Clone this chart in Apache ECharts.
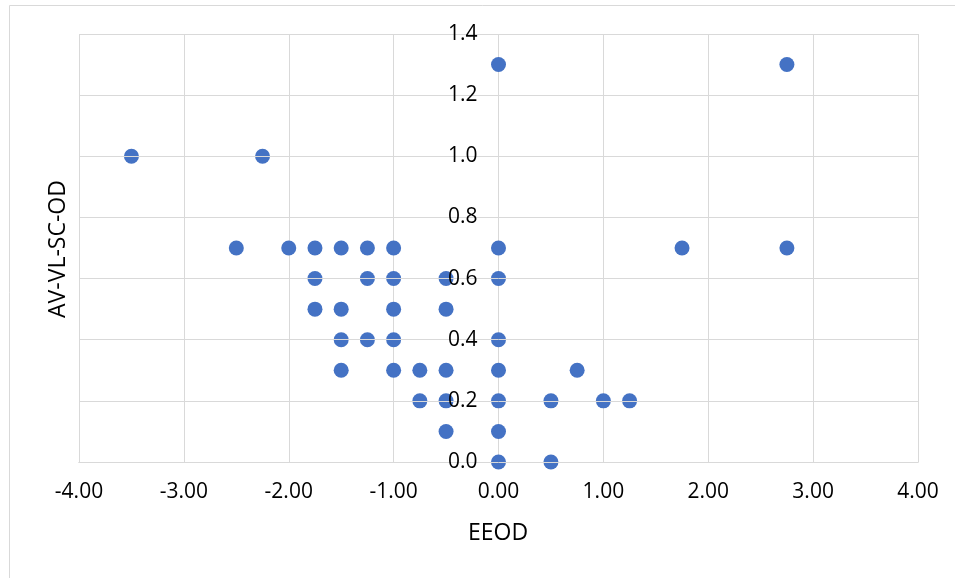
<!DOCTYPE html>
<html>
<head>
<meta charset="utf-8">
<script src="https://cdn.jsdelivr.net/npm/echarts@6/dist/echarts.min.js"></script>
<style>html,body{margin:0;padding:0;background:#fff}#c{width:956px;height:578px}</style>
</head>
<body>
<div id="c"></div>
<script>
const eeod = [-3.5, -2.25, 0, 2.75,
  -2.5, -2.0, -1.75, -1.5, -1.25, -1.0, 0, 1.75, 2.75,
  -1.75, -1.25, -1.0, -0.5, 0,
  -1.75, -1.5, -1.0, -0.5,
  -1.5, -1.25, -1.0, 0,
  -1.5, -1.0, -0.75, -0.5, 0, 0.75,
  -0.75, -0.5, 0, 0.5, 1.0, 1.25,
  -0.5, 0,
  0, 0.5];
const avvlscod = [1.0, 1.0, 1.3, 1.3,
  0.7, 0.7, 0.7, 0.7, 0.7, 0.7, 0.7, 0.7, 0.7,
  0.6, 0.6, 0.6, 0.6, 0.6,
  0.5, 0.5, 0.5, 0.5,
  0.4, 0.4, 0.4, 0.4,
  0.3, 0.3, 0.3, 0.3, 0.3, 0.3,
  0.2, 0.2, 0.2, 0.2, 0.2, 0.2,
  0.1, 0.1,
  0.0, 0.0];
const xTitle = 'EEOD';
const yTitle = 'AV-VL-SC-OD';

const font = '"Open Sans", sans-serif';
const chart = echarts.init(document.getElementById('c'), null, {renderer: 'canvas'});
chart.setOption({
  animation: false,
  backgroundColor: '#fff',
  grid: {left: 79, right: 38, top: 34, bottom: 116, containLabel: false},
  xAxis: {
    type: 'value', min: -4, max: 4, interval: 1,
    axisLine: {onZero: false, lineStyle: {color: '#bfbfbf', width: 1}},
    axisTick: {show: false},
    axisLabel: {margin: 20, color: '#000', fontFamily: font, fontSize: 21,
      formatter: v => v.toFixed(2)},
    splitLine: {show: true, lineStyle: {color: '#d9d9d9', width: 1}}
  },
  yAxis: {
    type: 'value', min: 0, max: 1.4, interval: 0.2, z: 3, position: 'left', offset: 0,
    axisLine: {show: false, onZero: false},
    axisTick: {show: false},
    axisLabel: {margin: 21, color: '#000', fontFamily: font, fontSize: 21,
      formatter: v => v.toFixed(1)},
    splitLine: {show: true, lineStyle: {color: '#d9d9d9', width: 1}}
  },
  graphic: [
    {type: 'polyline', shape: {points: [[9.5, 600], [9.5, 5.5], [955, 5.5]]},
      style: {stroke: '#d9d9d9', fill: null, lineWidth: 1}, silent: true},
    {type: 'text', x: 498, y: 533, style: {text: xTitle, font: '23px ' + font, fill: '#000', align: 'center', verticalAlign: 'middle'}},
    {type: 'text', x: 58, y: 249, rotation: Math.PI / 2, style: {text: yTitle, font: '23px ' + font, fill: '#000', align: 'center', verticalAlign: 'middle'}}
  ],
  series: [{
    type: 'scatter', symbol: 'circle', symbolSize: 15,
    itemStyle: {color: '#4472C4', opacity: 1},
    data: eeod.map((x, i) => [x, avvlscod[i]])
  }]
});
// place the y axis (labels) where x = 0, like the reference
const px0 = chart.convertToPixel({xAxisIndex: 0}, 0);
const pxMin = chart.convertToPixel({xAxisIndex: 0}, -4);
chart.setOption({yAxis: {offset: -(px0 - pxMin)}});
</script>
</body>
</html>
